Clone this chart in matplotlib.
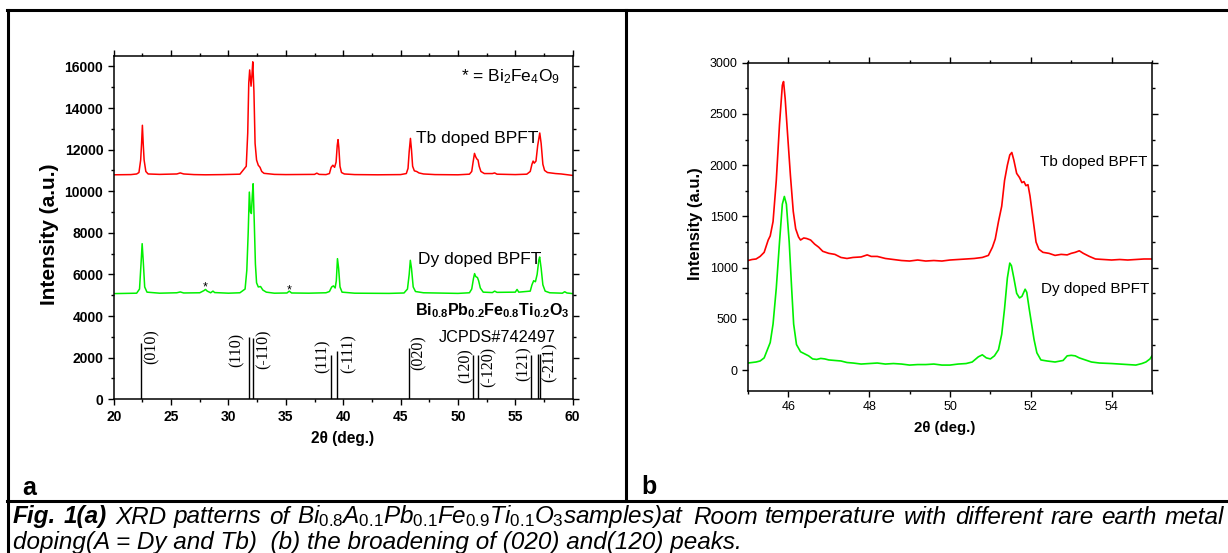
import matplotlib
matplotlib.use('Agg')
import matplotlib.pyplot as plt
from matplotlib.lines import Line2D
from matplotlib.ticker import MultipleLocator, FixedLocator

plt.rcParams['font.family'] = ['Liberation Sans', 'DejaVu Sans']
plt.rcParams['mathtext.fontset'] = 'custom'
plt.rcParams['mathtext.rm'] = 'Liberation Sans'
plt.rcParams['mathtext.it'] = 'Liberation Sans:italic'
plt.rcParams['mathtext.bf'] = 'Liberation Sans:bold'

# ---------------- data ----------------
# (a) full pattern, 2theta (deg) vs intensity
tb_full = [(20.0, 10790), (21.5, 10800), (22.0, 10830), (22.2, 10900), (22.35, 11500),
           (22.43, 12300), (22.5, 13170), (22.57, 12300), (22.65, 11500), (22.8, 10950),
           (23.0, 10830), (24.0, 10810), (25.5, 10830), (25.8, 10880), (26.1, 10830),
           (27.0, 10800), (28.0, 10790), (29.5, 10800), (31.0, 10820), (31.55, 11200),
           (31.68, 12800), (31.77, 15200), (31.85, 15830), (31.97, 15050), (32.05, 15600),
           (32.12, 16220), (32.22, 14800), (32.32, 12300), (32.45, 11500), (32.6, 11250),
           (32.75, 11150), (32.9, 10950), (33.1, 10860), (34.0, 10810), (35.0, 10800),
           (37.5, 10810), (37.7, 10870), (37.9, 10810), (38.5, 10800), (38.8, 10850),
           (38.95, 11150), (39.1, 11250), (39.25, 11150), (39.38, 11400), (39.48, 12200),
           (39.55, 12480), (39.62, 12100), (39.72, 11200), (39.85, 10900), (40.1, 10830),
           (41.0, 10800), (43.0, 10790), (45.0, 10800), (45.5, 10850), (45.65, 11100),
           (45.75, 11900), (45.86, 12540), (45.95, 12000), (46.05, 11200), (46.2, 10980),
           (46.4, 10950), (46.6, 10880), (47.0, 10830), (48.0, 10800), (50.0, 10790),
           (51.0, 10820), (51.2, 10950), (51.32, 11400), (51.44, 11820), (51.55, 11650),
           (51.65, 11550), (51.75, 11500), (51.85, 11200), (52.0, 10950), (52.3, 10850),
           (53.0, 10850), (53.2, 10880), (53.4, 10820), (55.0, 10800), (56.0, 10820),
           (56.3, 10950), (56.45, 11300), (56.55, 11450), (56.65, 11350), (56.8, 11450),
           (56.95, 12200), (57.13, 12800), (57.25, 12300), (57.4, 11300), (57.55, 11000),
           (57.8, 10900), (58.5, 10850), (59.0, 10830), (60.0, 10760)]

dy_full = [(20.0, 5080), (22.0, 5100), (22.25, 5300), (22.38, 6500), (22.48, 7480),
           (22.58, 6600), (22.7, 5400), (22.9, 5150), (24.0, 5100), (25.5, 5120),
           (25.8, 5160), (26.1, 5110), (27.5, 5120), (27.85, 5220), (28.0, 5280),
           (28.15, 5200), (28.45, 5120), (28.65, 5200), (28.8, 5130), (30.0, 5100),
           (31.0, 5120), (31.45, 5300), (31.6, 6200), (31.72, 8000), (31.82, 9960),
           (31.92, 9000), (32.0, 8930), (32.08, 9800), (32.15, 10360), (32.25, 8500),
           (32.35, 6500), (32.45, 5600), (32.6, 5400), (32.8, 5420), (33.0, 5250),
           (33.3, 5150), (34.0, 5100), (35.1, 5110), (35.3, 5200), (35.5, 5110),
           (37.0, 5100), (38.5, 5120), (38.8, 5180), (39.0, 5400), (39.15, 5450),
           (39.3, 5350), (39.4, 5700), (39.5, 6760), (39.6, 6300), (39.72, 5400),
           (39.9, 5150), (41.0, 5100), (44.0, 5090), (45.3, 5110), (45.6, 5300),
           (45.75, 6000), (45.85, 6680), (45.95, 6300), (46.1, 5400), (46.3, 5180),
           (47.0, 5120), (50.0, 5090), (51.0, 5120), (51.2, 5300), (51.35, 5800),
           (51.45, 6040), (51.55, 5900), (51.7, 5850), (51.8, 5700), (51.95, 5350),
           (52.2, 5150), (53.0, 5130), (53.2, 5200), (53.4, 5140), (55.0, 5150),
           (55.15, 5280), (55.3, 5150), (56.3, 5200), (56.45, 5500), (56.6, 5700),
           (56.75, 5650), (56.9, 6000), (57.05, 6700), (57.12, 6840), (57.25, 6300),
           (57.4, 5500), (57.6, 5200), (58.0, 5120), (59.1, 5100), (59.3, 5170),
           (59.5, 5110), (60.0, 5080)]

# Bi2Fe4O9 impurity reflections (marked with *)
star_pos = [28.0, 35.3]
star_int = [5250, 5100]

# JCPDS#742497 reference lines
jcpds_pos = [22.41, 31.76, 32.11, 38.97, 39.49, 45.76, 51.34, 51.75, 56.39, 56.97, 57.15]
jcpds_int = [2700, 3000, 2960, 2120, 2320, 2480, 2110, 2110, 2150, 2180, 2180]
hkl = ['(010)', '(110)', '(-110)', '(111)', '(-111)', '(020)',
       '(120)', '(-120)', '(121)', '(-211)']

# (b) zoom on (020) and (120)
tb_zoom = [(45.0, 1070), (45.1, 1080), (45.2, 1085), (45.3, 1110), (45.4, 1150),
           (45.5, 1270), (45.55, 1310), (45.62, 1450), (45.7, 1850), (45.78, 2400),
           (45.85, 2780), (45.88, 2816), (45.92, 2650), (45.98, 2300), (46.05, 1900),
           (46.12, 1550), (46.18, 1380), (46.25, 1300), (46.3, 1270), (46.38, 1290),
           (46.45, 1285), (46.55, 1270), (46.65, 1230), (46.75, 1200), (46.85, 1160),
           (47.0, 1140), (47.15, 1130), (47.3, 1100), (47.45, 1090), (47.6, 1100),
           (47.8, 1105), (47.95, 1125), (48.05, 1110), (48.2, 1110), (48.4, 1090),
           (48.6, 1080), (48.8, 1070), (49.0, 1065), (49.2, 1075), (49.4, 1065),
           (49.6, 1070), (49.8, 1065), (50.0, 1075), (50.2, 1080), (50.4, 1085),
           (50.6, 1090), (50.8, 1100), (50.95, 1120), (51.05, 1200), (51.12, 1280),
           (51.2, 1450), (51.28, 1600), (51.35, 1850), (51.42, 2000), (51.48, 2100),
           (51.53, 2124), (51.58, 2050), (51.65, 1920), (51.72, 1880), (51.78, 1830),
           (51.83, 1840), (51.88, 1800), (51.93, 1810), (51.98, 1700), (52.03, 1550),
           (52.08, 1400), (52.13, 1250), (52.2, 1180), (52.3, 1150), (52.45, 1140),
           (52.6, 1120), (52.75, 1130), (52.9, 1125), (53.0, 1140), (53.1, 1150),
           (53.2, 1165), (53.3, 1140), (53.45, 1110), (53.6, 1085), (53.8, 1080),
           (54.0, 1075), (54.2, 1080), (54.4, 1075), (54.6, 1080), (54.8, 1085),
           (55.0, 1085)]

dy_zoom = [(45.0, 70), (45.1, 75), (45.2, 80), (45.3, 90), (45.4, 120),
           (45.48, 200), (45.55, 270), (45.62, 450), (45.7, 800), (45.78, 1250),
           (45.85, 1620), (45.9, 1695), (45.95, 1620), (46.02, 1250), (46.08, 800),
           (46.13, 450), (46.2, 250), (46.3, 180), (46.4, 160), (46.5, 140),
           (46.6, 110), (46.7, 105), (46.8, 115), (46.9, 110), (47.0, 100),
           (47.15, 95), (47.3, 90), (47.45, 75), (47.6, 70), (47.8, 60),
           (48.0, 65), (48.2, 70), (48.4, 60), (48.6, 65), (48.8, 60),
           (49.0, 50), (49.2, 55), (49.4, 55), (49.6, 60), (49.8, 50),
           (50.0, 50), (50.2, 60), (50.4, 65), (50.55, 80), (50.7, 130),
           (50.8, 150), (50.9, 120), (51.0, 110), (51.1, 140), (51.2, 200),
           (51.28, 350), (51.35, 600), (51.42, 900), (51.48, 1045), (51.52, 1020),
           (51.58, 900), (51.65, 750), (51.72, 705), (51.78, 720), (51.86, 790),
           (51.9, 760), (51.96, 600), (52.02, 450), (52.08, 300), (52.15, 170),
           (52.25, 100), (52.4, 90), (52.6, 80), (52.8, 95), (52.9, 140),
           (53.0, 145), (53.1, 140), (53.2, 120), (53.35, 100), (53.5, 80),
           (53.7, 70), (54.0, 65), (54.2, 60), (54.4, 55), (54.6, 50),
           (54.75, 65), (54.85, 80), (54.95, 110), (55.0, 140)]

RED = '#ff0000'
GREEN = '#00f000'

# ---------------- figure ----------------
W, H = 1228, 553
fig = plt.figure(figsize=(W / 100, H / 100), dpi=100)


def fx(x):
    return x / W


def fy(y):
    return 1 - y / H


ax_a = fig.add_axes([fx(113.7), fy(399.3), 459 / W, 343.3 / H])
ax_b = fig.add_axes([fx(748), fy(390.7), 404 / W, 328 / H])

# --- panel a ---
x, y = zip(*tb_full)
ax_a.plot(x, y, color=RED, lw=1.1)
x, y = zip(*dy_full)
ax_a.plot(x, y, color=GREEN, lw=1.1)
ax_a.vlines(jcpds_pos, 0, jcpds_int, color='k', lw=1.0)

for sx, sy in zip(star_pos, star_int):
    ax_a.text(sx, sy, '*', fontsize=9, ha='center', va='baseline')

hkl_xy = [(23.3, 2550), (30.72, 2370), (33.1, 2390), (38.21, 2090), (40.45, 2195),
          (46.55, 2235), (50.7, 1630), (52.65, 1550), (55.76, 1715), (57.96, 1780)]
for lab, (hx, hy) in zip(hkl, hkl_xy):
    ax_a.text(hx, hy, lab, rotation=90, ha='center', va='center',
              fontsize=11.5, family='Liberation Serif')

ax_a.text(58.85, 15265, r'* = Bi$_2$Fe$_4$O$_9$', fontsize=12.5, ha='right', va='baseline')
ax_a.text(46.34, 12304, 'Tb doped BPFT', fontsize=12.5, ha='left', va='baseline')
ax_a.text(46.54, 6514, 'Dy doped BPFT', fontsize=12.5, ha='left', va='baseline')
ax_a.text(59.71, 4023, r'$\mathbf{Bi_{0.8}Pb_{0.2}Fe_{0.8}Ti_{0.2}O_3}$',
          fontsize=11.5, ha='right', va='baseline')
ax_a.text(58.51, 2751, 'JCPDS#742497', fontsize=11.7, ha='right', va='baseline')

ax_a.set_xlim(20, 60)
ax_a.set_ylim(0, 16500)
ax_a.xaxis.set_major_locator(MultipleLocator(5))
ax_a.xaxis.set_minor_locator(MultipleLocator(2.5))
ax_a.yaxis.set_major_locator(MultipleLocator(2000))
ax_a.yaxis.set_minor_locator(MultipleLocator(1000))
ax_a.set_xlabel(r'2θ (deg.)', fontsize=11.2, fontweight='bold', va='center')
ax_a.xaxis.set_label_coords(0.499, -0.1156)
ax_a.set_ylabel('Intensity (a.u.)', fontsize=15, fontweight='bold', va='center')
ax_a.yaxis.set_label_coords(-0.140, 0.4815)
for lab in ax_a.get_xticklabels() + ax_a.get_yticklabels():
    lab.set_fontweight('bold')

# --- panel b ---
x, y = zip(*tb_zoom)
ax_b.plot(x, y, color=RED, lw=1.2)
x, y = zip(*dy_zoom)
ax_b.plot(x, y, color=GREEN, lw=1.2)
ax_b.text(54.88, 1989, 'Tb doped BPFT', fontsize=11, ha='right', va='baseline')
ax_b.text(54.93, 756, 'Dy doped BPFT', fontsize=11, ha='right', va='baseline')

ax_b.set_xlim(45, 55)
ax_b.set_ylim(-200, 3000)
ax_b.xaxis.set_major_locator(FixedLocator([46, 48, 50, 52, 54]))
ax_b.xaxis.set_minor_locator(FixedLocator([45, 47, 49, 51, 53, 55]))
ax_b.yaxis.set_major_locator(MultipleLocator(500))
ax_b.yaxis.set_minor_locator(MultipleLocator(250))
ax_b.set_xlabel(r'2θ (deg.)', fontsize=10.8, fontweight='bold', va='center')
ax_b.xaxis.set_label_coords(0.486, -0.1137)
ax_b.set_ylabel('Intensity (a.u.)', fontsize=12, fontweight='bold', va='center')
ax_b.yaxis.set_label_coords((695 - 748) / 404, (390.7 - 224) / 328)

for ax, fs in ((ax_a, 10), (ax_b, 9)):
    ax.tick_params(which='both', direction='out', top=True, right=True,
                   width=1.0, labelsize=fs)
    ax.tick_params(which='major', length=4)
    ax.tick_params(which='minor', length=2.3)
    for sp in ax.spines.values():
        sp.set_linewidth(1.1)

# --- table frame ---
frame_lw = 2.2
frame = [((7, 1228), (10, 10)), ((7.5, 7.5), (10, 553)),
         ((626.5, 626.5), (10, 501)), ((7, 1228), (501, 501))]
for xs, ys in frame:
    fig.add_artist(Line2D([fx(v) for v in xs], [fy(v) for v in ys],
                          color='k', lw=frame_lw, transform=fig.transFigure))

fig.text(fx(22), fy(488), 'a', fontsize=18, fontweight='bold', va='center')
fig.text(fx(641), fy(487), 'b', fontsize=18, fontweight='bold', va='center')

# --- caption, first line justified across the cell ---
cap_fs = 17.5
line1 = [('Fig.', 'bold'), ('1(a)', 'bold'), ('XRD', 'normal'), ('patterns', 'normal'),
         ('of', 'normal'),
         (r'$\mathit{Bi_{0.8}A_{0.1}Pb_{0.1}Fe_{0.9}Ti_{0.1}O_3}$samples)at', 'normal'),
         ('Room', 'normal'), ('temperature', 'normal'), ('with', 'normal'),
         ('different', 'normal'), ('rare', 'normal'), ('earth', 'normal'), ('metal', 'normal')]
words = [fig.text(0, fy(523.5), w, fontsize=cap_fs, style='italic', fontweight=wt,
                  va='baseline') for w, wt in line1]
renderer = fig.canvas.get_renderer()
widths = [t.get_window_extent(renderer).width for t in words]
x0, x1 = 13, 1224
gap = (x1 - x0 - sum(widths)) / (len(words) - 1)
xpos = x0
for t, w in zip(words, widths):
    t.set_x(fx(xpos))
    xpos += w + gap

fig.text(fx(13), fy(549), 'doping(A = Dy and Tb)  (b) the broadening of (020) and(120) peaks.',
         fontsize=cap_fs, style='italic', va='baseline')

fig.savefig('out.png', dpi=100)
